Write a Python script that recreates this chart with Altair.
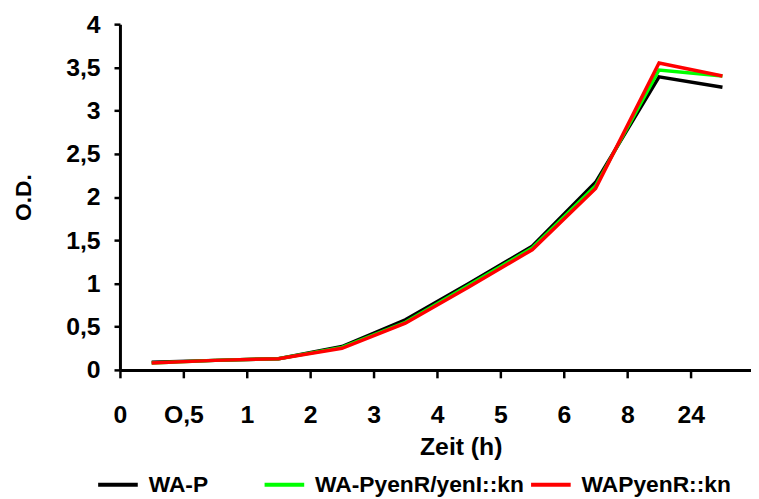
import json
import altair as alt
import pandas as pd

# ---- data ----
tick_labels = ["0", "O,5", "1", "2", "3", "4", "5", "6", "8", "24"]
series_names = ["WA-P", "WA-PyenR/yenI::kn", "WAPyenR::kn"]
series_colors = ["#000000", "#00FF00", "#FF0000"]

wa_p = [0.09, 0.11, 0.13, 0.27, 0.58, 1.00, 1.43, 2.17, 3.39, 3.27]
wa_pyenr_yeni = [0.08, 0.11, 0.13, 0.26, 0.55, 0.98, 1.41, 2.13, 3.47, 3.40]
wapyenr = [0.08, 0.11, 0.13, 0.25, 0.54, 0.96, 1.39, 2.10, 3.55, 3.40]

values = [wa_p, wa_pyenr_yeni, wapyenr]

FONT = "Liberation Sans"
labels_js = json.dumps(tick_labels)

x_axis = alt.Axis(
    values=list(range(len(tick_labels))),
    labelExpr=f"{labels_js}[datum.value]",
    title="Zeit (h)",
    titleFont=FONT, titleFontSize=25, titleFontWeight="bold", titleColor="black",
    titleX=344, titleY=65, titleAlign="center", titleBaseline="top",
    labelFont=FONT, labelFontSize=25, labelFontWeight="bold", labelColor="black",
    labelPadding=25, labelFlush=False, labelOverlap=False,
    domainColor="black", domainWidth=3,
    tickColor="black", tickWidth=2.5, tickSize=8,
    grid=False,
)

y_axis = alt.Axis(
    values=[0, 0.5, 1, 1.5, 2, 2.5, 3, 3.5, 4],
    labelExpr="replace(format(datum.value, '~g'), '.', ',')",
    title="O.D.",
    titleFont=FONT, titleFontSize=23, titleFontWeight="bold", titleColor="black",
    titleX=-85, titleY=174.5, titleAngle=270, titleAlign="center", titleBaseline="bottom",
    labelFont=FONT, labelFontSize=25, labelFontWeight="bold", labelColor="black",
    labelPadding=14, labelFlush=False, labelOverlap=False,
    domainColor="black", domainWidth=3,
    tickColor="black", tickWidth=2.5, tickSize=6,
    grid=False,
)

# legend entry positions (left edge of each swatch, relative to plot origin)
legend_x = [-24, 144, 413]

x_scale = alt.Scale(domain=[0, 9.95], nice=False, zero=False)
y_scale = alt.Scale(domain=[0, 4], nice=False)

layers = []
for s_idx, (name, color, vals) in enumerate(zip(series_names, series_colors, values)):
    df = pd.DataFrame({
        "pos": [i + 0.5 for i in range(len(vals))],  # sample in the middle of its slot
        "od": vals,
        "series": [name] * len(vals),
    })
    legend = alt.Legend(
        title=None,
        orient="none",
        legendX=legend_x[s_idx],
        legendY=443,
        symbolType="stroke",
        symbolSize=1600,
        symbolStrokeWidth=4,
        labelFont=FONT, labelFontSize=23, labelFontWeight="bold", labelColor="black",
        labelOffset=9,
        labelLimit=400,
        padding=0,
    )
    layer = (
        alt.Chart(df)
        .mark_line(strokeWidth=3.5)
        .encode(
            x=alt.X("pos:Q", scale=x_scale, axis=x_axis),
            y=alt.Y("od:Q", scale=y_scale, axis=y_axis),
            color=alt.Color(
                "series:N",
                scale=alt.Scale(domain=[name], range=[color]),
                legend=legend,
            ),
            order=alt.Order("pos:Q"),
        )
    )
    layers.append(layer)

chart = (
    alt.layer(*layers)
    .resolve_scale(color="independent")
    .properties(
        width=637,
        height=349,
        autosize=alt.AutoSizeParams(type="none"),
        padding={"left": 113, "top": 14, "right": 0, "bottom": 126},
        background="white",
    )
    .configure_view(stroke=None)
)

chart.save("out.html", embed_options={"renderer": "svg", "actions": False})
